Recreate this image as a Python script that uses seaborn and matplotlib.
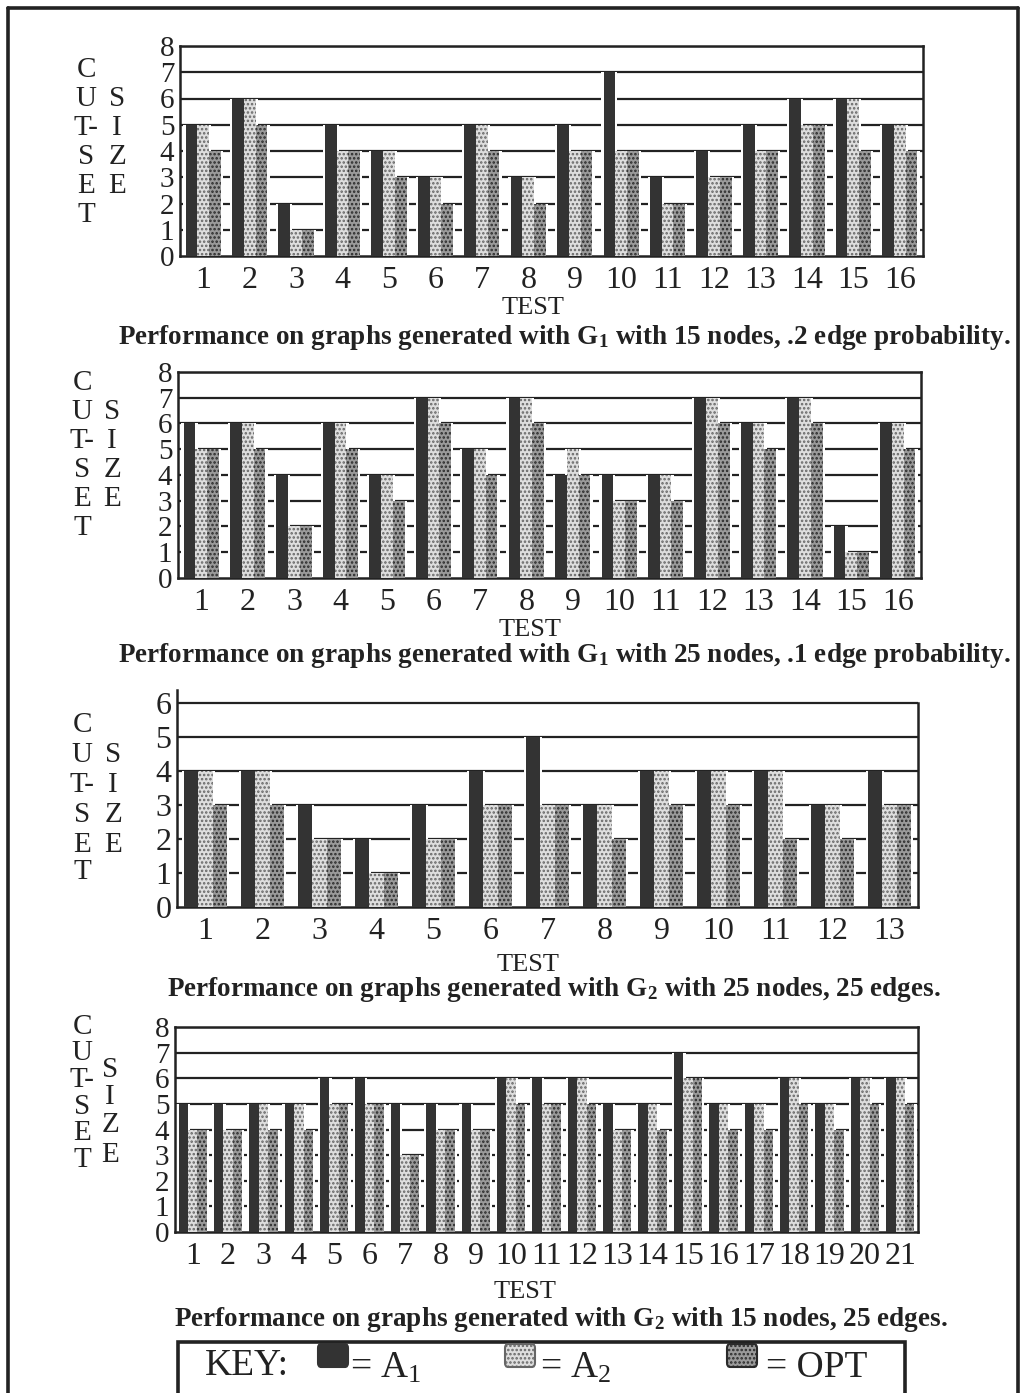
import pandas as pd
import matplotlib
matplotlib.use('Agg')
import matplotlib.pyplot as plt
import seaborn as sns
from matplotlib.patches import Rectangle, FancyBboxPatch
from matplotlib.lines import Line2D

W, H = 1021, 1393

# panel 1: G1, 15 nodes, .2 edge probability
p1_a1 = [5, 6, 2, 5, 4, 3, 5, 3, 5, 7, 3, 4, 5, 6, 6, 5]
p1_a2 = [5, 6, 1, 4, 4, 3, 5, 3, 4, 4, 2, 3, 4, 5, 6, 5]
p1_opt = [4, 5, 1, 4, 3, 2, 4, 2, 4, 4, 2, 3, 4, 5, 4, 4]

# panel 2: G1, 25 nodes, .1 edge probability
p2_a1 = [6, 6, 4, 6, 4, 7, 5, 7, 4, 4, 4, 7, 6, 7, 2, 6]
p2_a2 = [5, 6, 2, 6, 4, 7, 5, 7, 5, 3, 4, 7, 6, 7, 1, 6]
p2_opt = [5, 5, 2, 5, 3, 6, 4, 6, 4, 3, 3, 6, 5, 6, 1, 5]

# panel 3: G2, 25 nodes, 25 edges
p3_a1 = [4, 4, 3, 2, 3, 4, 5, 3, 4, 4, 4, 3, 4]
p3_a2 = [4, 4, 2, 1, 2, 3, 3, 3, 4, 4, 4, 3, 3]
p3_opt = [3, 3, 2, 1, 2, 3, 3, 2, 3, 3, 2, 2, 3]

# panel 4: G2, 15 nodes, 25 edges
p4_a1 = [5, 5, 5, 5, 6, 6, 5, 5, 5, 6, 6, 6, 5, 5, 7, 5, 5, 6, 5, 6, 6]
p4_a2 = [4, 4, 5, 5, 5, 5, 3, 4, 4, 6, 5, 6, 4, 5, 6, 5, 5, 6, 5, 6, 6]
p4_opt = [4, 4, 4, 4, 5, 5, 3, 4, 4, 5, 5, 5, 4, 4, 6, 4, 4, 5, 4, 5, 5]

algs = ['A1', 'A2', 'OPT']
colors = {'A1': '#333333', 'A2': '#dedede', 'OPT': '#9a9a9a'}
hatch_col = {'A1': '#333333', 'A2': '#666666', 'OPT': '#2a2a2a'}

sns.set_style('white')
plt.rcParams['font.family'] = ['Liberation Serif', 'DejaVu Serif']
plt.rcParams['mathtext.fontset'] = 'custom'
plt.rcParams['mathtext.rm'] = 'Liberation Serif'
plt.rcParams['hatch.linewidth'] = 1.2

fig = plt.figure(figsize=(W / 100, H / 100), dpi=100)


def fx(x):
    return x / W


def fy(y):
    return 1 - y / H


def panel(box, a1, a2, opt, ymax, ytop, width, title, title_xy, test_xy, letters, ysize):
    x0, y0, x1, y1 = box
    ax = fig.add_axes([fx(x0), fy(y1), (x1 - x0) / W, (y1 - y0) / H])
    n = len(a1)
    tests = [str(i) for i in range(1, n + 1)]
    df = pd.DataFrame({'test': tests * 3,
                       'size': a1 + a2 + opt,
                       'alg': ['A1'] * n + ['A2'] * n + ['OPT'] * n})
    for k in range(1, ymax + 1):
        ax.axhline(k, color='#222222', lw=1.6, zorder=1)
    sns.barplot(data=df, x='test', y='size', hue='alg', hue_order=algs,
                palette=colors, saturation=1, width=width, errorbar=None,
                legend=False, ax=ax, zorder=3, linewidth=0)
    inv = {v: k for k, v in colors.items()}
    pad = 2.2 * n / (x1 - x0)
    for p in list(ax.patches):
        fc = matplotlib.colors.to_hex(p.get_facecolor())
        alg = inv.get(fc)
        if alg is None:
            continue
        if alg != 'A1':
            p.set_hatch('....')
            p.set_edgecolor(hatch_col[alg])
            p.set_linewidth(0)
        # white collar behind each bar, as in the original print
        ax.add_patch(Rectangle((p.get_x() - pad, 0), p.get_width() + 2 * pad,
                               p.get_height(), facecolor='white',
                               edgecolor='none', zorder=2))
    ax.set_xlim(-0.5, n - 0.5)
    ax.set_ylim(0, ytop)
    ax.set_yticks(range(0, ymax + 1))
    ax.set_xlabel('')
    ax.set_ylabel('')
    ax.tick_params(axis='both', length=0, colors='#222222')
    ax.tick_params(axis='x', pad=7, labelsize=23)
    ax.tick_params(axis='y', pad=4, labelsize=ysize)
    for s in ax.spines.values():
        s.set_color('#222222')
        s.set_linewidth(1.8)
    if ytop > ymax:
        ax.spines['top'].set_visible(False)
        ax.spines['right'].set_bounds(0, ymax)
    fig.text(fx(test_xy[0]), fy(test_xy[1]), 'TEST', ha='center', va='center',
             fontsize=19, color='#222222')
    fig.text(fx(title_xy[0]), fy(title_xy[1]), title, ha='center', va='center',
             fontsize=19.5, fontweight='bold', color='#222222')
    for ch, x, y in letters:
        fig.text(fx(x), fy(y), ch, ha='center', va='center', fontsize=21,
                 color='#222222')
    return ax


def letter_set(cx1, cx2, ys1, ys2):
    out = []
    for ch, y in zip(['C', 'U', 'T-', 'S', 'E', 'T'], ys1):
        out.append((ch, cx1, y))
    for ch, y in zip(['S', 'I', 'Z', 'E'], ys2):
        out.append((ch, cx2, y))
    return out


panel((180, 46, 923, 256), p1_a1, p1_a2, p1_opt, 8, 8, 0.76,
      r'Performance on graphs generated with $\mathregular{G_1}$ with 15 nodes, .2 edge probability.',
      (564, 338), (533, 308),
      letter_set(86, 117, [70, 99, 128, 157, 186, 215], [99, 128, 157, 186]), 21)

panel((178, 372, 921, 578), p2_a1, p2_a2, p2_opt, 8, 8, 0.76,
      r'Performance on graphs generated with $\mathregular{G_1}$ with 25 nodes, .1 edge probability.',
      (564, 655), (530, 630),
      letter_set(82, 112, [383, 412, 441, 470, 499, 528], [412, 441, 470, 499]), 21)

panel((177, 690, 918, 907), p3_a1, p3_a2, p3_opt, 6, 6.38, 0.76,
      r'Performance on graphs generated with $\mathregular{G_2}$ with 25 nodes, 25 edges.',
      (554, 990), (528, 965),
      letter_set(82, 113, [725, 755, 785, 815, 845, 872], [755, 785, 815, 845]), 23)

panel((175, 1027, 918, 1232), p4_a1, p4_a2, p4_opt, 8, 8, 0.8,
      r'Performance on graphs generated with $\mathregular{G_2}$ with 15 nodes, 25 edges.',
      (561, 1320), (525, 1292),
      letter_set(82, 110, [1027, 1053, 1080, 1107, 1133, 1160], [1070, 1097, 1125, 1155]), 21)

# key box
fig.add_artist(Rectangle((fx(178), fy(1400)), 727 / W, 58 / H,
                         transform=fig.transFigure, fill=False,
                         edgecolor='#222222', lw=2.6))
fig.text(fx(205), fy(1366), 'KEY:', ha='left', va='center', fontsize=27,
         color='#222222')
sw = [(318, 'A1', r'= A$\mathregular{_1}$', 350),
      (505, 'A2', r'= A$\mathregular{_2}$', 540),
      (727, 'OPT', '= OPT', 766)]
for x, alg, lab, tx in sw:
    fig.add_artist(FancyBboxPatch((fx(x), fy(1367)), 30 / W, 23 / H,
                                  boxstyle='round,pad=0,rounding_size=0.003',
                                  transform=fig.transFigure,
                                  facecolor=colors[alg],
                                  edgecolor=hatch_col[alg], lw=1.5,
                                  hatch=None if alg == 'A1' else '....'))
    fig.text(fx(tx), fy(1368), lab, ha='left', va='center', fontsize=27,
             color='#222222')

# outer frame
for xs, ys in [((8, 8), (8, 1393)), ((8, 1018), (8, 8)), ((1018, 1018), (8, 1393))]:
    fig.add_artist(Line2D([fx(v) for v in xs], [fy(v) for v in ys],
                          transform=fig.transFigure, color='#222222', lw=2.6))

fig.savefig('out.png', dpi=100)
